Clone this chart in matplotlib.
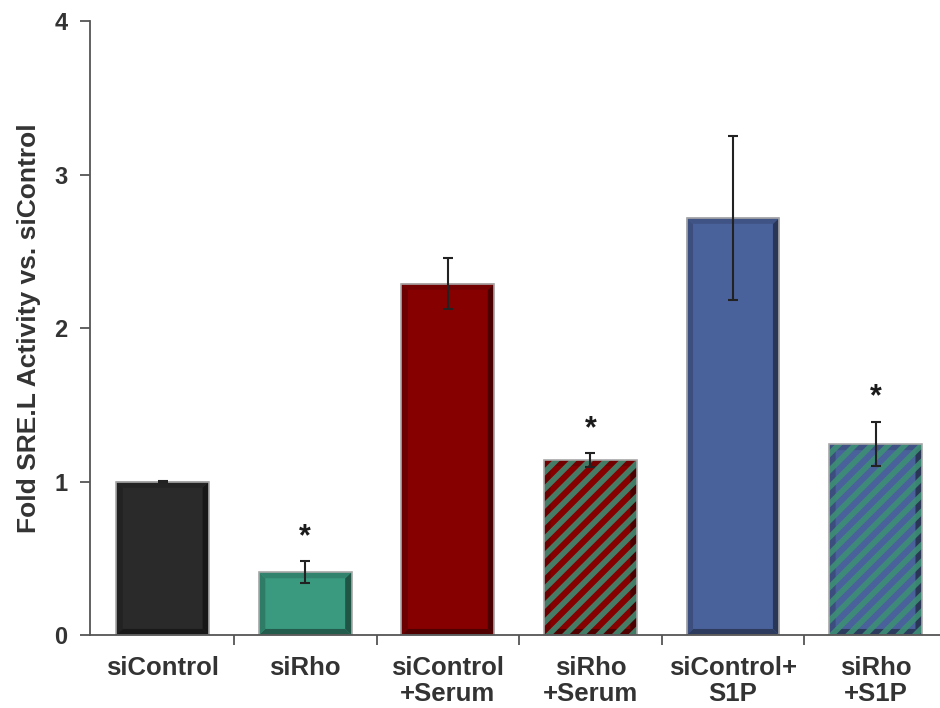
import matplotlib
matplotlib.use("Agg")
import matplotlib.pyplot as plt
from matplotlib.patches import Polygon, Rectangle
import numpy as np

plt.rcParams['font.family'] = ['Liberation Sans', 'DejaVu Sans']
plt.rcParams['hatch.linewidth'] = 4.0

# Data
categories = ["siControl", "siRho", "siControl\n+Serum", "siRho\n+Serum", "siControl+\nS1P", "siRho\n+S1P"]
values = [1.0, 0.41, 2.29, 1.14, 2.72, 1.245]
errors = [0.005, 0.07, 0.165, 0.045, 0.535, 0.145]
significant = [False, True, False, True, False, True]

face_colors = ["#2a2a2a", "#3a9a80", "#870000", "#870000", "#4a629c", "#4a629c"]
stripe_colors = [None, None, None, "#3f8a72", None, "#3d8f75"]

text_color = "#333333"

fig = plt.figure(figsize=(9.40, 7.08), dpi=100)
ax = fig.add_axes([0.0957, 0.103, 0.904, 0.867])

x = np.arange(len(categories))
width = 0.65

def shade(color, f):
    c = np.array(matplotlib.colors.to_rgb(color))
    return tuple(c * f)

# bevel thickness in data units
bx = 0.045
by = 0.04

for xi, v, fc, sc in zip(x, values, face_colors, stripe_colors):
    left = xi - width / 2
    right = xi + width / 2
    ax.bar(xi, v, width=width, color=fc, edgecolor="none", zorder=2)
    # bevel: darker right and bottom, slightly darker left and top
    ax.add_patch(Polygon([(right, 0), (right, v), (right - bx, v - by), (right - bx, by)],
                         closed=True, facecolor=shade(fc, 0.55), edgecolor="none", zorder=2.05))
    ax.add_patch(Polygon([(left, 0), (right, 0), (right - bx, by), (left + bx, by)],
                         closed=True, facecolor=shade(fc, 0.6), edgecolor="none", zorder=2.05))
    ax.add_patch(Polygon([(left, 0), (left, v), (left + bx, v - by), (left + bx, by)],
                         closed=True, facecolor=shade(fc, 0.8), edgecolor="none", zorder=2.05))
    ax.add_patch(Polygon([(left, v), (right, v), (right - bx, v - by), (left + bx, v - by)],
                         closed=True, facecolor=shade(fc, 0.85), edgecolor="none", zorder=2.05))
    if sc is not None:
        ax.bar(xi, v, width=width, color="none", edgecolor=sc, linewidth=0,
               hatch="//", alpha=0.9, zorder=2.1)
    ax.add_patch(Rectangle((left, 0), width, v, facecolor="none", edgecolor="#a8a8a8",
                           linewidth=1.2, zorder=2.3))

ax.errorbar(x, values, yerr=errors, fmt="none", ecolor="#222222", elinewidth=1.5,
            capsize=3.5, capthick=1.5, zorder=3)

for xi, v, e, s in zip(x, values, errors, significant):
    if s:
        ax.text(xi, v + e + 0.06, "*", ha="center", va="bottom", fontsize=22,
                fontweight="bold", color="#1a1a1a", zorder=4)

ax.set_xlim(-0.51, 5.45)
ax.set_ylim(0, 4)
ax.set_yticks([0, 1, 2, 3, 4])
ax.set_xticks(x)
ax.set_xticklabels(categories, fontsize=18.5, fontweight="bold", color=text_color,
                   linespacing=1.1)
ax.set_xticks(np.arange(0.5, len(categories) - 0.5, 1), minor=True)
ax.tick_params(axis="x", which="major", length=0, pad=15)
ax.tick_params(axis="x", which="minor", length=7, width=1.3, color="#555555", direction="out")
ax.tick_params(axis="y", length=7, width=1.3, color="#555555", direction="out", pad=9,
               labelsize=17, labelcolor=text_color)
for lab in ax.get_yticklabels():
    lab.set_fontweight("bold")

ax.set_ylabel("Fold SRE.L Activity vs. siControl", fontsize=19, fontweight="bold",
              color=text_color, labelpad=10)

for side in ["top", "right"]:
    ax.spines[side].set_visible(False)
for side in ["left", "bottom"]:
    ax.spines[side].set_color("#555555")
    ax.spines[side].set_linewidth(1.3)

fig.savefig("out.png", dpi=100)
